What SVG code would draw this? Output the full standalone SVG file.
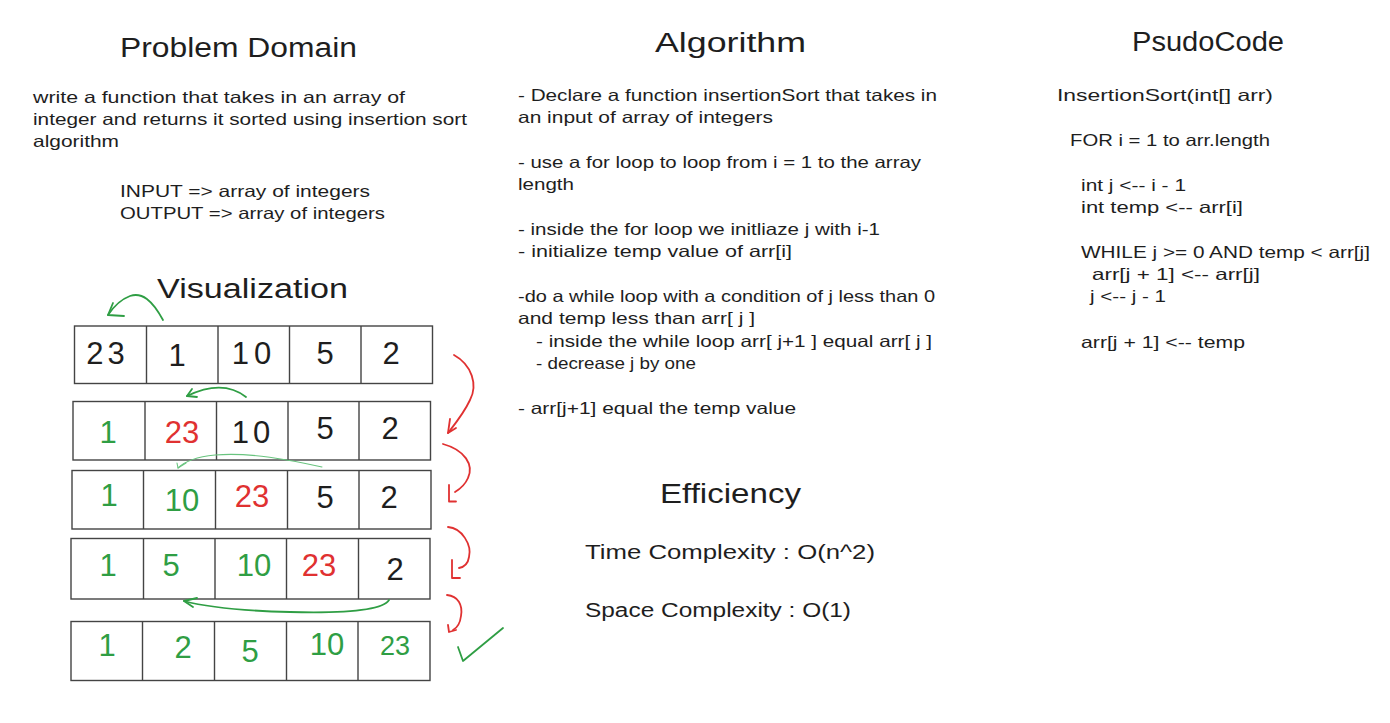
<svg xmlns="http://www.w3.org/2000/svg" width="1390" height="723" viewBox="0 0 1390 723">
<style>
text{font-family:"Liberation Sans","DejaVu Sans",sans-serif;fill:#1e1e1e}
.title{font-size:27px}
.body{font-size:16.5px}
.dig{font-size:31px;text-anchor:middle}
.g{fill:#2f9e44}
.r{fill:#e03131}
.cell{fill:none;stroke:#444;stroke-width:1.4}
.red{fill:none;stroke:#e03131;stroke-width:1.8;stroke-linecap:round;stroke-linejoin:round}
.grn{fill:none;stroke:#2f9e44;stroke-width:1.8;stroke-linecap:round;stroke-linejoin:round}
.grnl{fill:none;stroke:#69c47f;stroke-width:1.1;stroke-linecap:round;stroke-linejoin:round}
</style>
<rect width="1390" height="723" fill="#ffffff"/>

<g id="problem-domain">
<text class="title" x="120" y="57" textLength="237" lengthAdjust="spacingAndGlyphs">Problem Domain</text>
<text class="body" x="33" y="103" textLength="372" lengthAdjust="spacingAndGlyphs">write a function that takes in an array of</text>
<text class="body" x="33" y="125" textLength="434" lengthAdjust="spacingAndGlyphs">integer and returns it sorted using insertion sort</text>
<text class="body" x="33" y="147" textLength="86" lengthAdjust="spacingAndGlyphs">algorithm</text>
<text class="body" x="120" y="197" textLength="250" lengthAdjust="spacingAndGlyphs">INPUT =&gt; array of integers</text>
<text class="body" x="120" y="219" textLength="265" lengthAdjust="spacingAndGlyphs">OUTPUT =&gt; array of integers</text>
</g>

<g id="algorithm">
<text class="title" x="655" y="52" textLength="151" lengthAdjust="spacingAndGlyphs">Algorithm</text>
<text class="body" x="518" y="101" textLength="419" lengthAdjust="spacingAndGlyphs">- Declare a function insertionSort that takes in</text>
<text class="body" x="518" y="123" textLength="255" lengthAdjust="spacingAndGlyphs">an input of array of integers</text>
<text class="body" x="518" y="168" textLength="403" lengthAdjust="spacingAndGlyphs">- use a for loop to loop from i = 1 to the array</text>
<text class="body" x="518" y="190" textLength="56" lengthAdjust="spacingAndGlyphs">length</text>
<text class="body" x="518" y="235" textLength="362" lengthAdjust="spacingAndGlyphs">- inside the for loop we initliaze j with i-1</text>
<text class="body" x="518" y="257" textLength="274" lengthAdjust="spacingAndGlyphs">- initialize temp value of arr[i]</text>
<text class="body" x="518" y="302" textLength="417" lengthAdjust="spacingAndGlyphs">-do a while loop with a condition of j less than 0</text>
<text class="body" x="518" y="324" textLength="237" lengthAdjust="spacingAndGlyphs">and temp less than arr[ j ]</text>
<text class="body" x="536" y="347" textLength="396" lengthAdjust="spacingAndGlyphs">- inside the while loop arr[ j+1 ] equal arr[ j ]</text>
<text class="body" x="536" y="369" textLength="160" lengthAdjust="spacingAndGlyphs">- decrease j by one</text>
<text class="body" x="518" y="414" textLength="278" lengthAdjust="spacingAndGlyphs">- arr[j+1] equal the temp value</text>
</g>

<g id="efficiency">
<text class="title" x="660" y="503" textLength="141" lengthAdjust="spacingAndGlyphs">Efficiency</text>
<text class="body" x="585" y="559" style="font-size:20px" textLength="290" lengthAdjust="spacingAndGlyphs">Time Complexity : O(n^2)</text>
<text class="body" x="585" y="617" style="font-size:20px" textLength="266" lengthAdjust="spacingAndGlyphs">Space Complexity : O(1)</text>
</g>

<g id="pseudocode">
<text class="title" x="1132" y="51" textLength="152" lengthAdjust="spacingAndGlyphs">PsudoCode</text>
<text class="body" x="1057" y="101" textLength="216" lengthAdjust="spacingAndGlyphs">InsertionSort(int[] arr)</text>
<text class="body" x="1070" y="146" textLength="200" lengthAdjust="spacingAndGlyphs">FOR i = 1 to arr.length</text>
<text class="body" x="1081" y="191" textLength="105" lengthAdjust="spacingAndGlyphs">int j &lt;-- i - 1</text>
<text class="body" x="1081" y="213" textLength="162" lengthAdjust="spacingAndGlyphs">int temp &lt;-- arr[i]</text>
<text class="body" x="1081" y="258" textLength="289" lengthAdjust="spacingAndGlyphs">WHILE j &gt;= 0 AND temp &lt; arr[j]</text>
<text class="body" x="1092" y="280" textLength="168" lengthAdjust="spacingAndGlyphs">arr[j + 1] &lt;-- arr[j]</text>
<text class="body" x="1090" y="302" textLength="76" lengthAdjust="spacingAndGlyphs">j &lt;-- j - 1</text>
<text class="body" x="1081" y="348" textLength="164" lengthAdjust="spacingAndGlyphs">arr[j + 1] &lt;-- temp</text>
</g>

<g id="visualization-title">
<text class="title" x="157" y="298" textLength="191" lengthAdjust="spacingAndGlyphs">Visualization</text>
</g>

<g id="row1">
<rect class="cell" x="74.5" y="326" width="358" height="57.5"/>
<path class="cell" d="M146.5 326V383.5M218 326V383.5M289.5 326V383.5M361 326V383.5"/>
<text class="dig" x="107.5" y="364" letter-spacing="4">23</text>
<text class="dig" x="177" y="366">1</text>
<text class="dig" x="254" y="364" letter-spacing="5">10</text>
<text class="dig" x="325" y="364">5</text>
<text class="dig" x="391" y="364">2</text>
</g>

<g id="row2">
<rect class="cell" x="73" y="401.5" width="357.5" height="58.5"/>
<path class="cell" d="M145 401.5V460M216.5 401.5V460M288 401.5V460M359 401.5V460"/>
<text class="dig g" x="108" y="443">1</text>
<text class="dig r" x="182" y="443">23</text>
<text class="dig" x="253" y="443" letter-spacing="4">10</text>
<text class="dig" x="325" y="439">5</text>
<text class="dig" x="390" y="439">2</text>
</g>

<g id="row3">
<rect class="cell" x="72" y="470.5" width="359" height="58.5"/>
<path class="cell" d="M143.5 470.5V529M215.5 470.5V529M287.5 470.5V529M359 470.5V529"/>
<text class="dig g" x="109" y="506">1</text>
<text class="dig g" x="182" y="511">10</text>
<text class="dig r" x="252" y="507">23</text>
<text class="dig" x="325" y="508">5</text>
<text class="dig" x="389" y="508">2</text>
</g>

<g id="row4">
<rect class="cell" x="71" y="538.5" width="359" height="60.5"/>
<path class="cell" d="M143.5 538.5V599M215 538.5V599M286.5 538.5V599M358.5 538.5V599"/>
<text class="dig g" x="108" y="576">1</text>
<text class="dig g" x="171" y="576">5</text>
<text class="dig g" x="254" y="576">10</text>
<text class="dig r" x="319" y="576">23</text>
<text class="dig" x="395" y="580">2</text>
</g>

<g id="row5">
<rect class="cell" x="71" y="621.5" width="359" height="59"/>
<path class="cell" d="M142.5 621.5V680.5M214.5 621.5V680.5M286.5 621.5V680.5M358 621.5V680.5"/>
<text class="dig g" x="107" y="656">1</text>
<text class="dig g" x="183" y="658">2</text>
<text class="dig g" x="250" y="662">5</text>
<text class="dig g" x="327" y="655">10</text>
<text class="dig g" x="395" y="655" style="font-size:27px">23</text>
</g>

<g id="connectors">
<path class="grn" d="M163 320C152 300 142 292 130 296C122 299 114 306 108 315"/>
<path class="grn" d="M108 315L124 316M108 315L113 303"/>
<path class="grn" d="M246 397C232 386 212 384 187 396"/>
<path class="grn" d="M187 396L197 397M187 396L192 389"/>
<path class="grnl" d="M322 467C290 460 250 452 215 455C195 457 184 462 178 468"/>
<path class="grnl" d="M178 468L177 463M178 468L186 463"/>
<path class="grn" d="M389 600C382 612 330 613 290 612C250 611 210 608 184 601"/>
<path class="grn" d="M184 601L197 598M184 601L193 607"/>
<path class="grn" d="M458 647L463 661L503 628"/>
<path class="red" d="M454 355C472 365 478 385 470 400C464 413 455 424 448 433"/>
<path class="red" d="M448 433L450 419M448 433L456 428"/>
<path class="red" d="M443 444C465 450 474 465 468 478C465 485 460 489 455 492"/>
<path class="red" d="M449 485L449 501.5L456 501.5"/>
<path class="red" d="M448 527C462 528 472 545 469 557C468 564 464 567 459 568"/>
<path class="red" d="M452 560L452 578L460 578"/>
<path class="red" d="M447 595C458 596 463 605 461 616C460 624 457 628 453 630"/>
<path class="red" d="M448 625L449 632L456 630"/>
</g>
</svg>
